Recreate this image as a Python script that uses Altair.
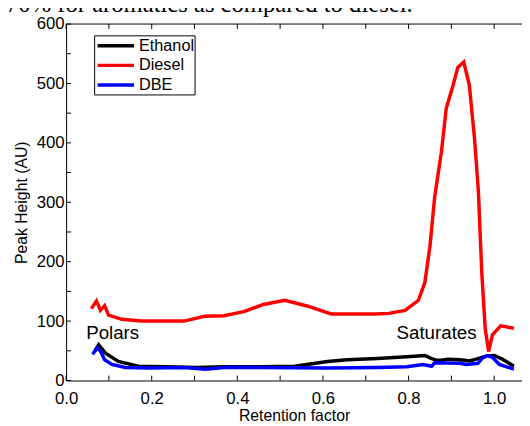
import altair as alt
import pandas as pd

# ---- data ----
eth_x = [0.067, 0.076, 0.092, 0.122, 0.169, 0.23, 0.307, 0.369, 0.457, 0.534, 0.611, 0.657, 0.727,
         0.796, 0.838, 0.85, 0.865, 0.877, 0.892, 0.919, 0.931, 0.942, 0.958, 0.981, 1.0, 1.019, 1.046]
eth_y = [49, 60, 46, 32, 24, 23, 22, 23, 23, 24, 32, 35, 37,
         40, 42, 38, 34, 34, 36, 35, 34, 33, 36, 41, 42, 36, 24]

die_x = [0.059, 0.071, 0.080, 0.090, 0.099, 0.13, 0.176, 0.276, 0.323, 0.369, 0.415, 0.461, 0.511,
         0.565, 0.619, 0.723, 0.754, 0.792, 0.823, 0.838, 0.850, 0.861, 0.877, 0.888, 0.904, 0.915,
         0.929, 0.942, 0.954, 0.963, 0.971, 0.979, 0.987, 0.996, 1.015, 1.046]
die_y = [121, 134, 118, 126, 110, 103, 100, 100, 108, 109, 116, 128, 135,
         125, 112, 112, 113, 118, 135, 165, 226, 309, 386, 458, 497, 527,
         536, 497, 408, 320, 182, 88, 49, 77, 92, 88]

dbe_x = [0.062, 0.072, 0.08, 0.09, 0.107, 0.138, 0.192, 0.276, 0.326, 0.369, 0.457, 0.611, 0.727,
         0.796, 0.834, 0.854, 0.861, 0.919, 0.935, 0.962, 0.973, 0.985, 0.996, 1.012, 1.046]
dbe_y = [44, 55, 50, 35, 27, 22, 21, 22, 19, 22, 22, 21, 22,
         23, 27, 24, 30, 29, 27, 29, 38, 42, 39, 27, 19]

series_names = ["Ethanol", "Diesel", "DBE"]
series_colors = ["#000000", "#ff0000", "#0000ff"]

x_label_values = [0.0, 0.2, 0.4, 0.6, 0.8, 1.0]
x_tick_values = [0.0, 0.1, 0.2, 0.3, 0.4, 0.5, 0.6, 0.7, 0.8, 0.9, 1.0]
y_label_values = [0, 100, 200, 300, 400, 500, 600]
y_tick_values = [0, 50, 100, 150, 200, 250, 300, 350, 400, 450, 500, 550, 600]

ann_text = ["Polars", "Saturates"]
ann_x = [0.047, 0.772]
ann_y = [79, 79]

page_text = "70% for aromatics as compared to diesel."

W, H = 463, 362
XDOM = [0, 1.065]
YDOM = [0, 600]
FONT = "Liberation Sans"

# ---- tables ----
rows = []
for name, xs_, ys_ in [("Ethanol", eth_x, eth_y), ("Diesel", die_x, die_y), ("DBE", dbe_x, dbe_y)]:
    for i, (a, b) in enumerate(zip(xs_, ys_)):
        rows.append({"series": name, "x": a, "y": b, "i": i})
df = pd.DataFrame(rows)

xs = alt.Scale(domain=XDOM, nice=False, zero=False)
ys = alt.Scale(domain=YDOM, nice=False)
cscale = alt.Scale(domain=series_names, range=series_colors)

x_axis = alt.Axis(values=x_label_values, format=".1f", title="Retention factor",
                  ticks=False, grid=False, labelPadding=10, titlePadding=2, labelFlush=False)
y_axis = alt.Axis(values=y_label_values, title="Peak Height (AU)", ticks=False,
                  grid=False, labelPadding=2, titlePadding=7)

# draw order: Ethanol, Diesel, DBE
layers_lines = []
for name in series_names:
    layers_lines.append(
        alt.Chart(df[df.series == name]).mark_line(strokeWidth=3.5, clip=True).encode(
            x=alt.X("x:Q", scale=xs, axis=x_axis),
            y=alt.Y("y:Q", scale=ys, axis=y_axis),
            color=alt.Color("series:N", scale=cscale, legend=None),
            order=alt.Order("i:Q"),
        )
    )

xt = pd.DataFrame({"v": x_tick_values})
yt = pd.DataFrame({"v": y_tick_values})

xticks_bottom = alt.Chart(xt).mark_rule(color="black", strokeWidth=1).encode(
    x=alt.X("v:Q", scale=xs), y=alt.value(H), y2=alt.value(H - 5))
xticks_top = alt.Chart(xt).mark_rule(color="black", strokeWidth=1).encode(
    x=alt.X("v:Q", scale=xs), y=alt.value(0), y2=alt.value(5))
yticks = alt.Chart(yt).mark_rule(color="black", strokeWidth=1).encode(
    y=alt.Y("v:Q", scale=ys), x=alt.value(0), x2=alt.value(5))
top_border = alt.Chart(pd.DataFrame({"a": [0]})).mark_rule(color="black", strokeWidth=1).encode(
    x=alt.value(0), x2=alt.value(W), y=alt.value(0))

# ---- manual legend (pixel layout, identity scales) ----
leg_df = pd.DataFrame({
    "name": series_names,
    "row": [22 + 20 * k for k in range(len(series_names))],
    "x0": [32] * len(series_names),
    "x1": [69] * len(series_names),
    "xt": [74] * len(series_names),
})
leg_box = alt.Chart(pd.DataFrame({"a": [0]})).mark_rect(
    fill="white", stroke="black", strokeWidth=1).encode(
    x=alt.value(29), x2=alt.value(131), y=alt.value(12), y2=alt.value(72))
leg_lines = alt.Chart(leg_df).mark_rule(strokeWidth=3.5).encode(
    x=alt.X("x0:Q", scale=None), x2="x1:Q", y=alt.Y("row:Q", scale=None),
    color=alt.Color("name:N", scale=cscale, legend=None))
leg_text = alt.Chart(leg_df).mark_text(
    align="left", baseline="middle", font=FONT, fontSize=16.5, color="black").encode(
    x=alt.X("xt:Q", scale=None), y=alt.Y("row:Q", scale=None), text="name:N")

ann = alt.Chart(pd.DataFrame({"t": ann_text, "x": ann_x, "y": ann_y})).mark_text(
    align="left", baseline="middle", font=FONT, fontSize=19, color="black").encode(
    x=alt.X("x:Q", scale=xs), y=alt.Y("y:Q", scale=ys), text="t:N")

ptext = alt.Chart(pd.DataFrame({"t": [page_text]})).mark_text(
    align="left", baseline="alphabetic", font="Liberation Serif", fontSize=25,
    color="black").encode(x=alt.value(-61), y=alt.value(-12), text="t:N")

chart = alt.layer(
    *layers_lines, xticks_bottom, xticks_top, yticks, top_border,
    leg_box, leg_lines, leg_text, ann, ptext
).resolve_scale(x="shared", y="shared").properties(
    width=W, height=H,
    autosize=alt.AutoSizeParams(type="none"),
    padding={"left": 59, "top": 13, "right": 0, "bottom": 48},
    background="white",
).configure_view(stroke=None).configure_axis(
    labelFont=FONT, labelFontSize=17, labelColor="black",
    titleFont=FONT, titleFontSize=16, titleFontWeight="normal", titleColor="black",
    domainColor="black", domainWidth=1,
)

chart.save("out.html", embed_options={"renderer": "svg", "actions": False})
